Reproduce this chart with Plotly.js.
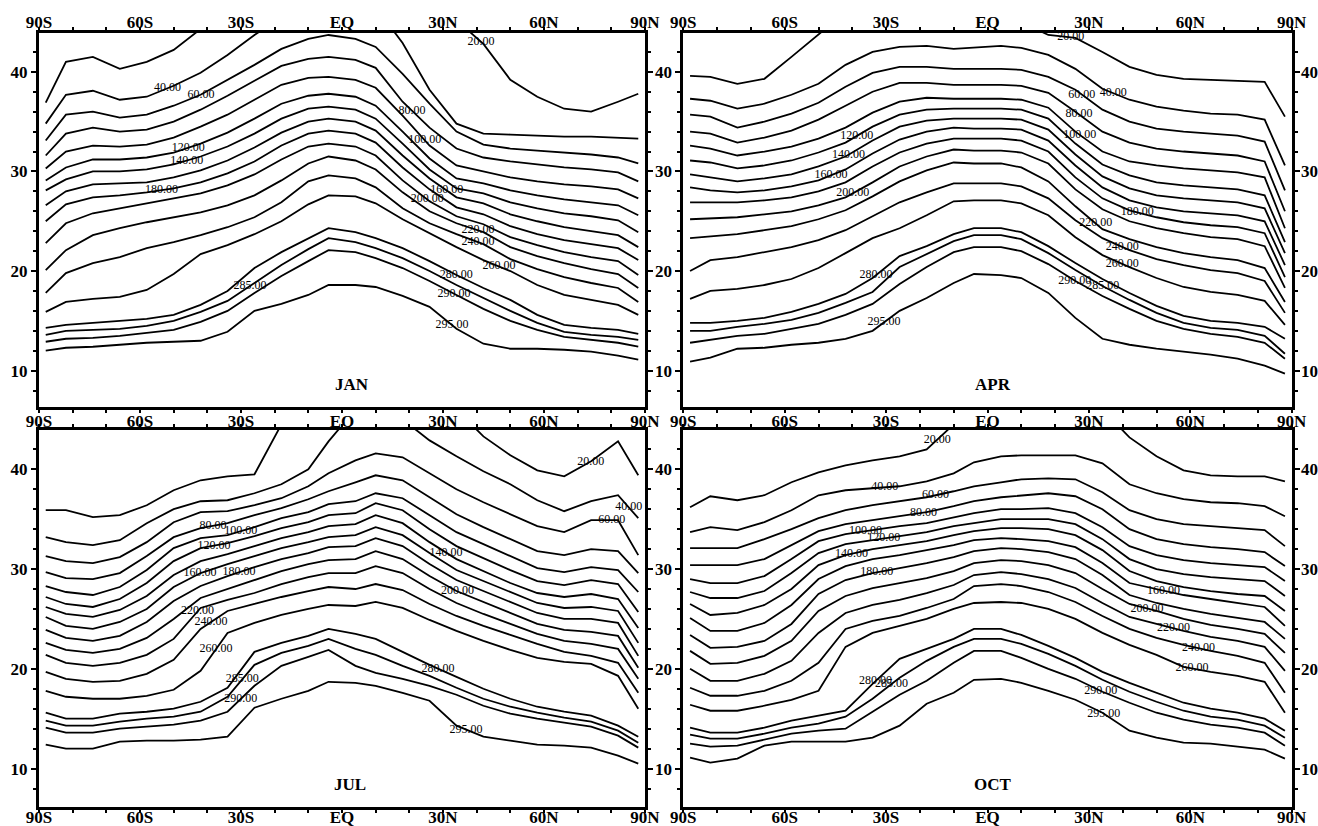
<!DOCTYPE html>
<html><head><meta charset="utf-8">
<script src="https://cdn.plot.ly/plotly-3.0.1.min.js"></script>
<style>html,body{margin:0;padding:0;background:#fff}#chart{width:1318px;height:826px}</style>
</head><body><div id="chart"></div>
<script>
// latitude columns (deg, negative = south)
const lats = [-88,-82,-74,-66,-58,-50,-42,-34,-26,-18,-10,-4,4,10,18,26,34,42,50,58,66,74,82,88];
const levels = [20,40,60,80,100,120,140,160,180,200,220,240,260,280,285,290,295];
const tickLabelsX = ['90S','60S','30S','EQ','30N','60N','90N'];
const tickValsX = [-90,-60,-30,0,30,60,90];
const months = ['JAN','APR','JUL','OCT'];

// altitude (km) of each contour level along lats
const janLines = [
[36.9,41.0,41.5,40.3,41.0,42.2,44.3,46,47,48,48,48,48,48,47.5,46.5,45.2,42.8,39.2,37.5,36.3,36.0,37.0,37.8],
[34.8,37.7,38.1,37.2,37.5,38.6,39.9,41.7,43.7,45.5,46.5,47,47,46.5,42.9,38.2,34.8,33.8,33.7,33.6,33.5,33.5,33.4,33.3],
[33.1,35.7,36.0,35.4,35.7,36.6,37.7,39.2,40.7,42.3,43.3,43.7,43.3,42.5,39.8,36.8,34.0,32.7,32.3,32.1,31.9,31.7,31.4,30.8],
[31.6,33.8,34.4,34.0,34.2,35.0,36.2,37.6,39.1,40.6,41.3,41.5,41.2,40.4,37.0,34.4,32.3,31.4,31.0,30.7,30.4,30.2,29.9,29.0],
[30.3,32.0,32.6,32.5,32.7,33.4,34.5,35.7,37.2,38.7,39.4,39.5,39.2,38.4,35.6,32.6,30.6,30.0,29.4,29.0,28.7,28.5,28.2,27.3],
[29.1,30.4,31.2,31.2,31.4,31.9,32.8,33.9,35.3,36.8,37.6,37.8,37.5,36.6,34.0,31.3,29.3,28.8,28.1,27.6,27.2,26.9,26.6,25.6],
[28.1,29.2,30.0,30.0,30.2,30.7,31.5,32.5,33.8,35.3,36.3,36.5,36.2,35.3,32.8,30.2,28.3,27.8,26.9,26.3,25.8,25.5,25.1,23.9],
[26.6,28.0,28.7,28.8,28.9,29.4,30.1,31.1,32.4,33.9,35.0,35.3,35.0,34.1,31.6,29.3,27.4,26.8,25.7,25.0,24.4,24.0,23.6,22.4],
[25.0,26.7,27.4,27.6,27.9,28.3,28.9,29.8,31.0,32.6,33.8,34.1,33.8,32.9,30.4,28.2,26.4,25.7,24.5,23.7,23.1,22.7,22.3,21.1],
[22.8,24.8,25.8,26.3,26.8,27.3,27.8,28.6,29.7,31.2,32.5,32.8,32.5,31.6,29.1,27.0,25.5,24.7,23.4,22.6,21.9,21.4,21.0,19.6],
[20.1,22.1,23.6,24.3,24.9,25.4,25.9,26.6,27.6,29.1,30.8,31.5,31.1,30.2,27.9,26.0,24.8,23.9,22.4,21.5,20.8,20.2,19.7,18.3],
[17.8,19.8,20.8,21.4,22.3,22.9,23.6,24.4,25.4,26.9,29.0,29.6,29.3,28.4,26.3,24.8,23.7,22.7,21.2,20.2,19.4,18.8,18.3,16.9],
[15.9,16.9,17.2,17.4,18.1,19.7,21.7,22.6,23.7,25.0,26.7,27.6,27.5,26.8,25.2,23.8,22.4,21.1,20.0,18.6,17.6,17.1,16.6,15.6],
[14.3,14.6,14.8,15.0,15.2,15.6,16.6,18.0,20.3,21.9,23.3,24.3,23.9,23.3,22.3,21.0,19.6,18.3,17.1,15.6,14.6,14.3,14.1,13.7],
[13.6,14.0,14.1,14.2,14.5,15.0,15.9,17.0,18.8,20.6,22.2,23.3,22.9,22.3,21.3,20.0,18.6,17.3,16.0,14.8,13.9,13.6,13.4,13.1],
[12.9,13.2,13.3,13.5,13.8,14.1,14.9,16.0,17.8,19.5,21.0,22.1,21.9,21.3,20.3,19.0,17.6,16.2,15.0,14.1,13.4,13.1,12.8,12.4],
[12.0,12.3,12.4,12.6,12.8,12.9,13.0,13.9,16.0,16.7,17.6,18.6,18.6,18.4,17.5,16.4,14.2,12.7,12.2,12.2,12.1,11.9,11.5,11.1]
];
const aprLines = [
[39.6,39.5,38.8,39.3,41.5,43.8,46,47,48,48,47.5,46.5,45.5,45,43.7,43.4,42.0,40.5,39.7,39.3,39.2,39.1,39.0,35.5],
[37.3,37.1,36.3,36.8,37.7,38.8,40.7,42.0,42.5,42.6,42.3,42.4,42.6,42.4,41.7,40.3,38.3,37.2,36.5,36.1,35.8,35.7,35.2,30.6],
[35.7,35.5,34.4,35.0,35.8,36.9,38.5,39.9,40.5,40.5,40.3,40.3,40.3,40.2,39.5,38.2,36.2,35.0,34.3,34.0,33.8,33.6,33.0,28.1],
[34.0,33.8,32.9,33.4,34.1,35.2,36.6,38.0,38.9,38.9,38.7,38.7,38.7,38.6,37.9,36.0,34.0,32.9,32.3,32.0,31.8,31.6,31.0,26.0],
[32.6,32.3,31.6,32.0,32.5,33.3,34.4,35.9,37.0,37.4,37.3,37.3,37.3,37.2,36.4,34.0,32.0,31.0,30.6,30.3,30.1,29.9,29.4,24.3],
[31.1,30.9,30.3,30.6,31.1,31.9,32.9,34.5,35.7,36.2,36.3,36.3,36.3,36.2,35.3,32.8,30.7,29.6,28.9,28.6,28.4,28.2,27.6,22.9],
[29.7,29.4,29.0,29.3,29.7,30.5,31.5,33.1,34.5,35.1,35.3,35.3,35.3,35.2,34.2,31.7,29.5,28.3,27.6,27.3,27.1,26.9,26.3,21.8],
[28.4,28.1,27.9,28.1,28.5,29.1,30.2,31.8,33.2,34.0,34.4,34.3,34.3,34.2,33.1,30.6,28.4,27.1,26.4,26.0,25.8,25.6,25.0,20.6],
[26.9,26.9,26.9,27.1,27.4,28.0,28.9,30.5,31.9,32.8,33.3,33.3,33.3,33.1,32.0,29.4,27.3,26.1,25.4,24.9,24.6,24.4,23.8,19.4],
[25.2,25.3,25.4,25.7,26.0,26.6,27.4,28.9,30.5,31.5,32.2,32.1,32.1,31.9,30.8,28.2,26.2,25.0,24.3,23.8,23.4,23.2,22.5,18.3],
[23.3,23.5,23.7,24.1,24.5,25.2,26.1,27.5,29.0,30.1,30.9,30.8,30.8,30.4,29.0,26.5,24.2,23.2,22.4,21.8,21.4,21.1,20.3,16.9],
[20.0,21.1,21.4,21.9,22.4,23.1,24.1,25.5,26.9,27.9,28.8,28.8,28.8,28.5,27.3,25.1,23.3,22.1,21.2,20.6,20.1,19.8,19.0,15.8],
[17.2,18.0,18.2,18.6,19.2,20.3,21.8,23.3,24.3,25.6,27.0,27.1,27.1,26.8,25.6,23.4,21.6,20.4,19.3,18.4,17.9,17.6,17.0,14.6],
[14.8,14.8,15.0,15.3,15.9,16.7,17.7,19.3,21.5,22.5,23.7,24.3,24.3,23.9,22.5,20.8,19.2,17.8,16.5,15.5,15.0,14.8,14.4,13.2],
[14.0,14.0,14.4,14.7,15.1,15.8,16.8,17.9,20.4,21.7,23.0,23.6,23.6,23.2,21.8,20.1,18.5,17.1,15.8,14.8,14.3,14.1,13.5,11.7],
[12.8,13.1,13.5,13.7,14.2,14.7,15.6,16.7,18.7,20.4,21.9,22.4,22.4,22.0,20.7,19.0,17.5,16.2,15.0,14.2,13.7,13.4,12.8,11.2],
[10.9,11.3,12.2,12.3,12.6,12.8,13.2,14.0,16.0,17.3,18.8,19.7,19.6,19.3,17.8,15.3,13.2,12.6,12.2,11.9,11.6,11.2,10.5,9.7]
];
const julLines = [
[35.9,35.9,35.2,35.4,36.4,37.9,38.9,39.3,39.5,44.5,46,47,47,47,47,46.5,46,43.3,41.4,39.9,39.3,40.8,42.8,39.4],
[33.2,32.7,32.4,32.9,34.6,36.0,36.8,36.9,37.6,38.5,40.0,42.8,46,47,45,42.9,41.3,39.8,38.5,36.9,35.8,36.8,37.4,35.1],
[31.3,30.8,30.6,31.2,32.7,34.7,35.7,35.8,36.4,37.1,38.3,39.6,40.9,41.6,41.2,39.6,38.0,36.7,35.5,34.3,33.7,34.9,34.9,31.4],
[29.7,29.1,29.0,29.6,31.3,33.2,34.1,34.6,35.4,36.1,37.0,37.8,38.7,39.4,38.9,37.2,35.5,34.2,33.0,31.8,31.4,32.0,31.8,29.6],
[28.3,27.7,27.4,28.2,29.9,32.1,33.1,33.4,34.2,35.1,35.7,36.5,36.8,37.6,37.1,35.4,33.7,32.5,31.3,30.1,29.7,30.2,29.9,27.7],
[27.2,26.5,26.2,27.0,28.6,30.8,32.1,32.6,33.3,34.1,34.7,35.4,35.6,36.6,35.9,34.0,32.3,31.1,29.9,28.8,28.4,28.9,28.5,25.7],
[26.2,25.5,25.2,25.9,27.3,29.4,30.8,31.5,32.3,33.1,33.7,34.3,34.5,35.4,34.6,32.7,31.0,29.8,28.6,27.6,27.2,27.5,27.0,24.1],
[25.2,24.3,24.0,24.7,26.0,28.2,29.6,30.5,31.3,32.1,32.7,33.2,33.4,34.2,33.4,31.6,29.9,28.8,27.7,26.6,26.1,26.2,25.8,22.6],
[23.9,23.1,22.8,23.3,24.7,26.8,28.3,29.3,30.2,31.0,31.6,32.2,32.3,33.1,32.3,30.5,28.9,27.8,26.7,25.6,25.0,25.0,24.6,21.3],
[22.6,21.9,21.6,22.0,23.1,25.0,27.1,28.0,28.9,29.8,30.5,30.9,31.0,31.8,31.0,29.3,27.8,26.7,25.6,24.5,23.9,23.7,23.3,20.1],
[21.4,20.6,20.3,20.6,21.4,23.0,26.1,26.9,27.6,28.5,29.2,29.6,29.6,30.3,29.6,28.0,26.6,25.5,24.5,23.5,22.8,22.5,22.0,19.0],
[19.7,19.0,18.7,18.8,19.5,20.9,24.0,25.8,26.5,27.2,27.8,28.2,28.0,28.5,27.9,26.5,25.3,24.3,23.4,22.5,21.7,21.3,20.6,17.6],
[17.8,17.2,17.0,17.0,17.3,17.9,19.8,23.6,24.6,25.4,26.0,26.4,26.3,26.7,26.1,24.9,23.8,22.8,21.9,21.1,20.7,20.5,19.3,16.0],
[15.6,15.0,15.0,15.5,15.7,16.0,16.7,18.1,21.7,22.6,23.3,24.0,23.5,23.0,21.7,20.4,19.2,18.0,17.0,16.2,15.7,15.3,14.3,13.2],
[14.8,14.3,14.3,14.7,15.0,15.2,15.7,17.2,20.4,21.6,22.3,23.0,22.0,21.4,20.3,19.3,18.1,17.0,16.2,15.6,15.1,14.7,13.8,12.6],
[14.1,13.6,13.6,14.0,14.2,14.4,14.8,15.7,18.3,20.3,21.2,21.9,20.3,19.6,19.0,18.3,17.4,16.3,15.5,15.0,14.6,14.2,13.3,12.1],
[12.4,12.0,12.0,12.7,12.8,12.8,12.9,13.2,16.1,17.0,17.8,18.7,18.6,18.3,17.6,16.8,14.3,13.2,12.8,12.4,12.3,12.1,11.3,10.5]
];
const octLines = [
[36.2,37.3,36.9,37.4,38.7,39.7,40.4,40.9,41.3,42.0,44.5,47,47,47,47,46.5,46,43.2,41.3,39.9,39.4,39.3,39.3,38.8],
[33.7,34.2,33.9,34.7,35.9,37.4,37.9,38.1,38.3,38.8,39.6,40.7,41.3,41.4,41.4,41.4,40.6,38.5,37.6,37.0,36.7,36.6,36.3,35.3],
[32.1,32.1,32.1,33.0,34.0,35.1,35.9,36.4,36.8,37.2,37.8,38.3,38.7,39.0,39.1,39.0,37.7,35.9,35.0,34.5,34.3,34.1,33.9,32.3],
[30.4,30.4,30.4,31.0,32.4,33.8,34.5,34.9,35.3,35.7,36.3,36.8,37.2,37.4,37.6,37.3,36.0,34.0,33.0,32.5,32.2,32.0,31.7,30.3],
[29.0,28.6,28.6,29.3,31.0,32.8,33.5,33.9,34.3,34.6,35.2,35.6,36.0,36.0,36.1,35.6,34.2,32.3,31.4,30.9,30.6,30.4,30.2,28.8],
[27.7,27.1,27.1,27.8,29.6,31.6,32.5,32.9,33.3,33.7,34.3,34.6,35.0,35.0,35.0,34.5,33.0,31.0,30.0,29.5,29.2,29.0,28.8,27.3],
[26.5,25.4,25.6,26.4,28.0,30.4,31.4,32.0,32.4,32.8,33.4,33.8,34.1,34.1,34.0,33.4,31.9,29.8,28.8,28.2,27.8,27.5,27.3,25.8],
[25.1,23.8,23.8,24.6,26.4,29.0,30.3,31.0,31.4,31.9,32.4,32.9,33.1,33.0,32.8,32.2,30.6,28.6,28.0,27.4,27.0,26.6,26.2,24.3],
[23.4,22.1,22.2,22.8,24.5,27.5,28.9,29.6,30.1,30.6,31.2,31.8,32.1,32.0,31.7,31.0,29.4,27.4,26.6,26.0,25.5,25.1,24.7,23.0],
[21.8,20.5,20.6,21.3,22.8,25.8,27.3,28.1,28.6,29.1,29.8,30.6,30.9,30.8,30.4,29.6,28.0,26.5,25.8,25.0,24.4,24.0,23.5,21.6],
[20.0,18.8,18.8,19.5,20.8,23.6,25.6,26.4,26.9,27.6,28.4,29.4,29.7,29.5,29.0,28.1,26.6,25.2,24.5,23.8,23.2,22.8,22.2,19.8],
[18.1,17.3,17.3,17.8,18.8,20.6,24.0,24.8,25.3,26.1,27.0,28.3,28.5,28.3,27.7,26.7,25.3,24.0,23.1,22.4,21.8,21.3,20.6,17.6],
[16.4,15.8,15.8,16.3,16.9,17.8,22.2,23.6,24.3,25.0,26.0,26.6,26.7,26.6,26.0,25.0,23.6,22.4,21.4,20.2,19.7,19.3,18.7,15.6],
[14.1,13.6,13.6,14.1,14.8,15.3,15.8,18.5,21.0,22.0,23.0,24.0,24.0,23.4,22.3,21.1,19.7,18.6,17.6,16.6,16.0,15.6,15.0,13.8],
[13.4,13.0,13.0,13.5,14.1,14.5,15.2,17.0,19.1,20.8,22.2,23.0,23.0,22.5,21.5,20.3,18.9,17.7,16.7,15.8,15.2,14.9,14.3,13.1],
[12.5,12.2,12.3,12.9,13.5,13.8,14.0,15.7,17.4,18.8,20.6,21.8,21.8,21.1,20.0,19.0,17.7,16.6,15.6,14.9,14.4,14.1,13.6,12.3],
[11.1,10.6,11.0,12.3,12.7,12.7,12.7,13.1,14.3,16.5,17.6,18.9,19.0,18.6,17.8,16.9,15.6,13.8,13.1,12.6,12.5,12.2,11.9,11.0]
];

// latitude where each level's value label sits (same order as levels)
const janLabelLat = [41.3,-51.8,-41.9,20.8,24.6,-45.7,-46.1,31.1,-53.6,25.3,40.4,40.4,46.6,33.9,-27.3,33.3,32.7];
const aprLabelLat = [24.6,37.2,27.9,27.1,27.3,-38.7,-41.1,-46.3,44.3,-39.9,32.0,39.9,39.9,-33.0,34.1,25.8,-30.6];
const julLabelLat = [73.9,85.2,80.1,-38.3,-30.1,-38.0,30.9,-42.2,-30.6,34.3,-42.9,-38.9,-37.4,28.5,-29.6,-30.1,36.8];
const octLabelLat = [-14.9,-30.4,-15.4,-18.9,-36.1,-30.7,-40.2,52.1,-32.8,47.2,55.0,62.4,60.5,-33.1,-28.4,33.5,34.4];

const panels = [
  {lines: janLines, lab: janLabelLat, xa:'x',  ya:'y'},
  {lines: aprLines, lab: aprLabelLat, xa:'x2', ya:'y2'},
  {lines: julLines, lab: julLabelLat, xa:'x3', ya:'y3'},
  {lines: octLines, lab: octLabelLat, xa:'x4', ya:'y4'}
];

function interp(xs, ys, x) {
  for (let i = 0; i < xs.length - 1; i++) {
    if (x >= xs[i] && x <= xs[i+1]) {
      const t = (x - xs[i]) / (xs[i+1] - xs[i]);
      return ys[i] + t * (ys[i+1] - ys[i]);
    }
  }
  return x < xs[0] ? ys[0] : ys[ys.length-1];
}

const serif = 'Liberation Serif, Times New Roman, serif';
const traces = [];
panels.forEach(p => {
  p.lines.forEach(arr => {
    traces.push({x: lats, y: arr, mode:'lines', xaxis:p.xa, yaxis:p.ya,
      line:{color:'#000', width:1.8}, hoverinfo:'skip', showlegend:false});
  });
  traces.push({
    x: p.lab, y: p.lab.map((la, i) => interp(lats, p.lines[i], la)),
    text: levels.map(v => v.toFixed(2)), mode:'text', textposition:'middle center',
    textfont:{family: serif, size:12, color:'#000'},
    xaxis:p.xa, yaxis:p.ya, hoverinfo:'skip', showlegend:false, cliponaxis:false
  });
});
// empty traces binding the extra label axes
traces.push({x:[], y:[], xaxis:'x5', yaxis:'y3', showlegend:false, hoverinfo:'skip'});
traces.push({x:[], y:[], xaxis:'x6', yaxis:'y4', showlegend:false, hoverinfo:'skip'});
traces.push({x:[], y:[], xaxis:'x2', yaxis:'y5', showlegend:false, hoverinfo:'skip'});
traces.push({x:[], y:[], xaxis:'x4', yaxis:'y6', showlegend:false, hoverinfo:'skip'});

const W = 1318, H = 826;
const xL = [39/W, 645/W], xR = [683.3/W, 1291.7/W];
const yT = [1-407/H, 1-33/H], yB = [1-807/H, 1-430/H];
const rT = [6.35, 43.9], rB = [6.15, 43.94];
const tickFont = {family: serif, size:17, color:'#000', weight:'bold'};

function xAxis(domain, anchor, side, stand) {
  return {domain, anchor, side, range:[-90,90], tickmode:'array', tickvals:tickValsX, ticktext:tickLabelsX,
    ticks:'outside', ticklen:3, tickwidth:2, tickcolor:'#000', ticklabelstandoff:stand,
    showline:true, linewidth:3, linecolor:'#000', mirror:'ticks',
    showgrid:false, zeroline:false, tickfont:tickFont, fixedrange:true,
    minor:{tickmode:'linear', tick0:-90, dtick:10, ticks:'outside', ticklen:3, tickwidth:2, tickcolor:'#000', showgrid:false}};
}
function yAxis(domain, anchor, range) {
  return {domain, anchor, side:'left', range, tickmode:'linear', tick0:0, dtick:10,
    ticks:'outside', ticklen:5, tickwidth:2, tickcolor:'#000',
    showline:true, linewidth:3, linecolor:'#000', mirror:'ticks',
    showgrid:false, zeroline:false, tickfont:tickFont, fixedrange:true,
    minor:{tickmode:'linear', tick0:0, dtick:2, ticks:'outside', ticklen:3, tickwidth:2, tickcolor:'#000', showgrid:false}};
}
function xLabelOnly(overlay, anchor) {
  return {overlaying:overlay, anchor, side:'top', range:[-90,90], tickmode:'array', tickvals:tickValsX,
    ticktext:tickLabelsX, ticks:'outside', ticklen:3, tickcolor:'rgba(0,0,0,0)', showline:false,
    ticklabelstandoff:-8, showgrid:false, zeroline:false, tickfont:tickFont, fixedrange:true};
}
function yLabelOnly(overlay, anchor, range) {
  return {overlaying:overlay, anchor, side:'right', range, tickmode:'linear', tick0:0, dtick:10,
    ticks:'outside', ticklen:5, tickcolor:'rgba(0,0,0,0)', showline:false,
    showgrid:false, zeroline:false, tickfont:tickFont, fixedrange:true};
}

const monthPos = [[3, 8.6, 'x', 'y'], [1.5, 8.6, 'x2', 'y2'], [2.4, 8.4, 'x3', 'y3'], [1.6, 8.4, 'x4', 'y4']];

const layout = {
  width:W, height:H, margin:{l:0,r:0,t:0,b:0}, paper_bgcolor:'#fff', plot_bgcolor:'#fff', showlegend:false,
  xaxis: xAxis(xL, 'y', 'top', -8),
  yaxis: yAxis(yT, 'x', rT),
  xaxis2: xAxis(xR, 'y2', 'top', -8),
  yaxis2: yAxis(yT, 'x2', rT),
  xaxis3: xAxis(xL, 'y3', 'bottom', -10),
  yaxis3: yAxis(yB, 'x3', rB),
  xaxis4: xAxis(xR, 'y4', 'bottom', -10),
  yaxis4: yAxis(yB, 'x4', rB),
  xaxis5: xLabelOnly('x3', 'y3'),
  xaxis6: xLabelOnly('x4', 'y4'),
  yaxis5: yLabelOnly('y2', 'x2', rT),
  yaxis6: yLabelOnly('y4', 'x4', rB),
  annotations: months.map((m, i) => ({text:m, x:monthPos[i][0], y:monthPos[i][1], xref:monthPos[i][2], yref:monthPos[i][3],
    showarrow:false, font:{family:serif, size:17, color:'#000', weight:'bold'}}))
};

Plotly.newPlot('chart', traces, layout, {staticPlot:true, displayModeBar:false});
</script>
</body></html>
